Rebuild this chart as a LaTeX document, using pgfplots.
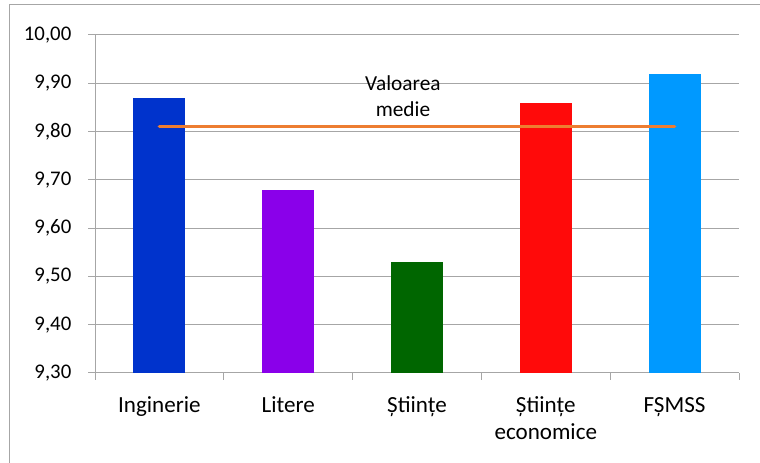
\documentclass[border=0pt]{standalone}
\usepackage{pgfplots}
\pgfplotsset{compat=1.18}
\usepackage{fontspec}
\setmainfont{Carlito}
\definecolor{cIng}{HTML}{0033CC}
\definecolor{cLit}{HTML}{8A00EA}
\definecolor{cSt}{HTML}{006600}
\definecolor{cEco}{HTML}{FF0A0A}
\definecolor{cFs}{HTML}{0099FF}
\definecolor{cMean}{HTML}{ED7D31}
\definecolor{cGrid}{HTML}{A6A6A6}
\begin{document}
\begin{tikzpicture}
\useasboundingbox (0,0) rectangle (570pt,347.25pt);
\draw[color=cGrid, line width=0.75pt] (6.75pt,-10pt) -- (6.75pt,343.5pt) -- (580pt,343.5pt);
\begin{axis}[
  at={(71.25pt,67.5pt)}, anchor=south west,
  scale only axis, width=483pt, height=253.5pt,
  xmin=-0.5, xmax=4.5, ymin=9.3, ymax=10,
  axis x line*=bottom, axis y line*=left,
  axis line style={-, draw=cGrid, line width=0.75pt},
  ymajorgrids, grid style={draw=cGrid, line width=0.75pt},
  ytick={9.3,9.4,9.5,9.6,9.7,9.8,9.9,10},
  yticklabel style={font=\fontsize{15.6}{18}\selectfont, xshift=-9pt, /pgf/number format/.cd, fixed, fixed zerofill, precision=2, use comma},
  /pgf/number format/assume math mode=true,
  tick align=outside, major tick length=5.25pt,
  tick style={draw=cGrid, line width=0.75pt},
  xtick={-0.5,0.5,1.5,2.5,3.5,4.5}, xticklabels={},
  extra x ticks={0,1,2,3,4},
  extra x tick labels={Inginerie,Litere,Științe,{\begin{tabular}[t]{@{}c@{}}Științe\\economice\end{tabular}},FȘMSS},
  extra x tick style={major tick length=0pt, grid=none},
  xticklabel style={anchor=base, font=\fontsize{17.3}{20}\selectfont, yshift=-29.6pt},
]
\addplot[ybar, bar width=39pt, bar shift=0pt, fill=cIng, draw=none] coordinates {(0,9.87)};
\addplot[ybar, bar width=39pt, bar shift=0pt, fill=cLit, draw=none] coordinates {(1,9.68)};
\addplot[ybar, bar width=39pt, bar shift=0pt, fill=cSt, draw=none] coordinates {(2,9.53)};
\addplot[ybar, bar width=39pt, bar shift=0pt, fill=cEco, draw=none] coordinates {(3,9.86)};
\addplot[ybar, bar width=39pt, bar shift=0pt, fill=cFs, draw=none] coordinates {(4,9.92)};
\addplot[color=cMean, line width=2.6pt, line cap=round] coordinates {(0,9.81) (4,9.81)};
\node[anchor=base, font=\fontsize{16}{19}\selectfont] at (axis cs:1.891,9.886) {Valoarea};
\node[anchor=base, font=\fontsize{16}{19}\selectfont] at (axis cs:1.891,9.8306) {medie};
\end{axis}
\end{tikzpicture}
\end{document}
